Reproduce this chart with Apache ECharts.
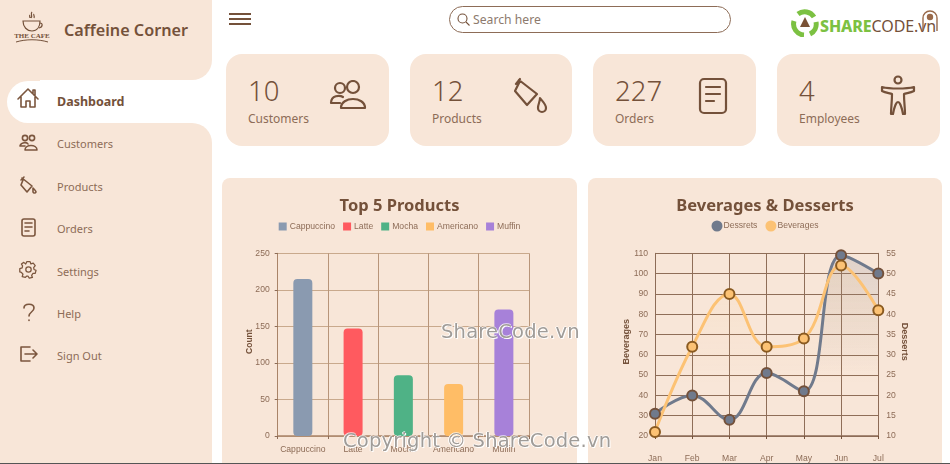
<!DOCTYPE html>
<html>
<head>
<meta charset="utf-8">
<title>Caffeine Corner</title>
<script src="https://cdn.jsdelivr.net/npm/echarts@6/dist/echarts.min.js"></script>
<style>
  * { box-sizing: border-box; }
  html, body { margin: 0; width: 950px; height: 464px; overflow: hidden; background: #fff; }
  body { position: relative; font-family: "Noto Sans", "Open Sans", sans-serif; color: #74513a; }
  .abs { position: absolute; }
  .beige { background: #f8e6d8; }
  .menu { position: absolute; left: 57px; font-size: 11px; color: #8d6c57; line-height: 16px; }
  .menu-icon { position: absolute; fill: none; stroke: #7b563e; stroke-width: 1.6; stroke-linecap: round; stroke-linejoin: round; }
  .stat { position: absolute; top: 54px; width: 163px; height: 92px; border-radius: 16px; background: #f8e6d8; }
  .stat .num { position: absolute; left: 22px; top: 17px; font-size: 27.5px; line-height: 40px; color: #74513a; font-weight: 300; }
  .stat .lbl { position: absolute; left: 22px; top: 57px; font-size: 12px; line-height: 16px; color: #8d6c57; }
  .stat svg { position: absolute; fill: none; stroke: #74513a; stroke-width: 2.2; stroke-linecap: round; stroke-linejoin: round; }
  .chart-card { position: absolute; top: 178px; height: 286px; background: #f8e6d8; border-radius: 8px 8px 0 0; }
  .mark { position: absolute; font-family: "DejaVu Sans", sans-serif; font-size: 19.5px; color: #a09c98; white-space: nowrap; letter-spacing: .2px;
          text-shadow: 1px 1px 0 #fff, -1px 0 0 #fff, 0 -1px 0 rgba(255,255,255,.6); }
</style>
</head>
<body>
  <!-- sidebar -->
  <div class="abs beige" style="left:0;top:0;width:40px;height:464px"></div>
  <div class="abs beige" style="left:0;top:0;width:212px;height:80px;border-bottom-right-radius:20px"></div>
  <div class="abs beige" style="left:0;top:123px;width:212px;height:341px;border-top-right-radius:20px"></div>
  <div class="abs" style="left:7px;top:81px;width:205px;height:42px;background:#fff;border-radius:21px 0 0 21px"></div>

  <svg class="abs" style="left:14px;top:9px" width="36" height="36" viewBox="0 0 36 36" fill="none" stroke="#74513a" stroke-width="1.2">
    <path d="M18 3c-2 2 1 3-1 6M20 5c-1 1 1 2 0 4M16 6c-1 1 0 2 0 3"/>
    <path d="M9 12h17c0 6-3 10-8 10s-9-4-9-10z"/><path d="M26 14c3 0 3 4-1 5"/>
  </svg>
  <div class="abs" style="left:12px;top:32px;width:40px;text-align:center;white-space:nowrap;font:bold 7px/8px 'Liberation Serif',serif;color:#74513a">THE CAFE</div>
  <svg class="abs" style="left:15px;top:39px" width="34" height="6" viewBox="0 0 34 6" fill="none" stroke="#74513a" stroke-width="1">
    <path d="M1 3c10-3 22-3 32 0"/>
  </svg>
  <div class="abs" style="left:64px;top:19px;font-size:16.2px;line-height:22px;font-weight:600;color:#74513a">Caffeine Corner</div>

  <svg class="menu-icon" style="left:16px;top:86px" width="24" height="24" viewBox="0 0 24 24">
    <path d="M2 13 12 3l10 10M5 11v10h5v-6h4v6h5V11M17 8V4h2v6"/>
  </svg>
  <div class="menu" style="top:94px;font-size:12.5px;font-weight:700;color:#74513a">Dashboard</div>

  <svg class="menu-icon" style="left:19px;top:134px" width="19" height="17" viewBox="0 0 19 17">
    <circle cx="6" cy="4" r="2.6"/><circle cx="13" cy="4" r="2.6"/><path d="M1 12c1-4 7-4 8-2M6 16c0-6 12-6 12 0zM1 12h5"/>
  </svg>
  <div class="menu" style="top:136px">Customers</div>

  <svg class="menu-icon" style="left:19px;top:175px" width="19" height="20" viewBox="0 0 19 20">
    <path d="M5 2 2 5M3 3l10 8-5 6-6-7 2-5M14 13c1 1 3 3 3 4a1.6 1.6 0 0 1-3 0c0-1 0-3 0-4z"/>
  </svg>
  <div class="menu" style="top:179px">Products</div>

  <svg class="menu-icon" style="left:21px;top:218px" width="15" height="19" viewBox="0 0 15 19">
    <rect x="1" y="1" width="13" height="17" rx="2"/><path d="M4 5h7M4 9h7M4 13h4"/>
  </svg>
  <div class="menu" style="top:221px">Orders</div>

  <svg class="menu-icon" style="left:19px;top:260px" width="19" height="19" viewBox="0 0 24 24">
    <circle cx="12" cy="12" r="3.4"/>
    <path d="M10 2h4l1 3 3-1 2.5 3-2 2.500 .5 2.500 2.500 1-1 4-3 0-1.500 2.500 1 2.500-4 1-1.500-2.500h-2L8 22l-4-1 1-3L3 15.500 1 15l0-4 3-1 .5-2.500L3 5l3-2 2.500 2z"/>
  </svg>
  <div class="menu" style="top:264px">Settings</div>

  <svg class="menu-icon" style="left:22px;top:303px" width="14" height="19" viewBox="0 0 14 19">
    <path d="M2 5c0-5 10-5 10 0 0 4-5 4-5 8"/><path d="M7 17v.5"/>
  </svg>
  <div class="menu" style="top:306px">Help</div>

  <svg class="menu-icon" style="left:20px;top:346px" width="18" height="16" viewBox="0 0 18 16">
    <path d="M10 1H1v14h9M5 8h12M13 4l4 4-4 4"/>
  </svg>
  <div class="menu" style="top:348px">Sign Out</div>

  <!-- top bar -->
  <div class="abs" style="left:229px;top:13px;width:22px;height:2px;background:#74513a"></div>
  <div class="abs" style="left:229px;top:18px;width:22px;height:2px;background:#74513a"></div>
  <div class="abs" style="left:229px;top:23px;width:22px;height:2px;background:#74513a"></div>

  <div class="abs" style="left:449px;top:6px;width:282px;height:27px;border:1px solid #8d6c57;border-radius:14px"></div>
  <svg class="abs" style="left:457px;top:13px" width="13" height="13" viewBox="0 0 13 13" fill="none" stroke="#74513a" stroke-width="1.1">
    <circle cx="5.500" cy="5.500" r="4.500"/><path d="M9 9l3.500 3.500"/>
  </svg>
  <div class="abs" style="left:473px;top:11px;font-size:12.2px;line-height:17px;color:#8d7a6d">Search here</div>

  <svg class="abs" style="left:791px;top:9px" width="28" height="28" viewBox="0 0 28 28" fill="none">
    <path d="M7 5a11 11 0 0 1 16 3M25 13a11 11 0 0 1-6 12M13 26A11 11 0 0 1 3 12" stroke="#7cc142" stroke-width="5"/>
    <path d="M14 8l5 10H9z" fill="#7a5236"/>
  </svg>
  <div class="abs" style="left:820px;top:15px;font-size:16px;line-height:22px;white-space:nowrap;letter-spacing:-.1px;color:#74513a"><span style="font-weight:800;color:#7cc142">SHARE</span>CODE.vn</div>
  <svg class="abs" style="left:920px;top:8px" width="20" height="24" viewBox="0 0 20 24" fill="none" stroke="#9a6a4a" stroke-width="1.4">
    <path d="M3 23V10a7 7 0 0 1 14 0v13"/><circle cx="10" cy="9" r="2.500" fill="#9a6a4a"/>
  </svg>

  <!-- stat cards -->
  <div class="stat" style="left:226px">
    <div class="num">10</div><div class="lbl">Customers</div>
    <svg style="left:103px;top:26px" width="38" height="30" viewBox="0 0 38 30"><circle cx="11" cy="8" r="5"/><circle cx="24" cy="7" r="6"/><path d="M2 23c0-8 9-8 12-6M3 23h8M12 28c0-12 24-12 24 0z"/></svg>
  </div>
  <div class="stat" style="left:410px;width:162px">
    <div class="num">12</div><div class="lbl">Products</div>
    <svg style="left:104px;top:22px" width="36" height="40" viewBox="0 0 36 40"><path d="M6 3 2 8M5 4l18 14-10 11-12-14 5-10M26 22c2 3 6 6 6 10a4 4 0 0 1-8 0c0-4 2-6 2-10z"/></svg>
  </div>
  <div class="stat" style="left:593px">
    <div class="num">227</div><div class="lbl">Orders</div>
    <svg style="left:105px;top:23px" width="30" height="38" viewBox="0 0 30 38"><rect x="2" y="2" width="26" height="34" rx="4"/><path d="M8 10h14M8 17h14M8 24h8"/></svg>
  </div>
  <div class="stat" style="left:777px">
    <div class="num">4</div><div class="lbl">Employees</div>
    <svg style="left:103px;top:20px" width="36" height="42" viewBox="0 0 36 42"><circle cx="18" cy="6" r="3.500"/><path d="M2 13c8 2 24 2 32 0l0 4c-4 2-8 2-10 3 0 8 1 14 1 20h-2c-1-6-3-12-5-12s-4 6-5 12h-2c0-6 1-12 1-20-2-1-6-1-10-3z"/></svg>
  </div>

  <!-- charts -->
  <div id="productsChart" class="chart-card" style="left:222px;width:355px"></div>
  <div id="salesChart" class="chart-card" style="left:588px;width:354px"></div>

  <div class="mark" style="left:441px;top:320px">ShareCode.vn</div>
  <div class="mark" style="left:343px;top:429px">Copyright © ShareCode.vn</div>
  <div class="abs" style="left:0;top:463px;width:950px;height:1px;background:#555"></div>

<script>
  const productNames = ['Cappuccino', 'Latte', 'Mocha', 'Americano', 'Muffin'];
  const productCounts = [215, 147, 83, 71, 173];
  const productColors = ['#8a9ab0', '#ff5a5f', '#4fb286', '#ffbd66', '#a781d9'];

  const months = ['Jan', 'Feb', 'Mar', 'Apr', 'May', 'Jun', 'Jul'];
  const beverages = [22, 64, 90, 64, 68, 104, 82];
  const desserts = [15.5, 20, 14, 25.5, 21, 54.5, 50];

  const titleColor = '#74513a';
  const labelColor = '#8d6c57';
  const chartFont = '"Liberation Sans", Arial, sans-serif';

  function makeTitle(text) {
    return {
      text: text,
      left: 'center',
      top: 15,
      textStyle: { color: titleColor, fontFamily: '"Noto Sans", sans-serif', fontSize: 16.5, fontWeight: 700 }
    };
  }

  const productsChart = echarts.init(document.getElementById('productsChart'), null, { renderer: 'canvas' });
  productsChart.setOption({
    animation: false,
    backgroundColor: 'transparent',
    title: makeTitle('Top 5 Products'),
    legend: {
      top: 39,
      left: 'center',
      itemWidth: 8,
      itemHeight: 8,
      itemGap: 8,
      icon: 'rect',
      textStyle: { color: labelColor, fontFamily: chartFont, fontSize: 8.6, padding: [0, 0, 0, -2] }
    },
    grid: { left: 55.7, top: 75.3, width: 251.3, height: 182.7 },
    xAxis: {
      type: 'category',
      data: productNames,
      boundaryGap: true,
      axisLine: { lineStyle: { color: '#a98468', width: 1.5 } },
      axisTick: { show: true, length: 3, lineStyle: { color: '#8d6c57' } },
      axisLabel: { color: labelColor, fontFamily: chartFont, fontSize: 8.6, margin: 9, interval: 0 },
      splitLine: { show: true, lineStyle: { color: '#b8957a', width: 1 } }
    },
    yAxis: {
      type: 'value',
      min: 0,
      max: 250,
      interval: 50,
      name: 'Count',
      nameLocation: 'middle',
      nameGap: 24,
      nameMoveOverlap: false,
      nameTextStyle: { color: titleColor, fontFamily: chartFont, fontSize: 8.5, fontWeight: 'bold', padding: [0, 0, 0, 6] },
      axisLine: { show: true, lineStyle: { color: '#a98468', width: 1 } },
      axisTick: { show: true, length: 3, lineStyle: { color: '#8d6c57' } },
      axisLabel: { color: labelColor, fontFamily: chartFont, fontSize: 8.6, margin: 8 },
      splitLine: { show: true, lineStyle: { color: '#c9a98c', width: 1 } }
    },
    series: productNames.map(function (name, i) {
      return {
        name: name,
        type: 'bar',
        barWidth: 19,
        barGap: '-100%',
        itemStyle: { color: productColors[i], borderRadius: 4 },
        data: productCounts.map(function (v, j) { return j === i ? v : null; })
      };
    })
  });

  const salesChart = echarts.init(document.getElementById('salesChart'), null, { renderer: 'canvas' });
  salesChart.setOption({
    animation: false,
    backgroundColor: 'transparent',
    title: makeTitle('Beverages & Desserts'),
    legend: {
      top: 37.5,
      left: 'center',
      itemWidth: 11,
      itemHeight: 11,
      itemGap: 8,
      icon: 'circle',
      itemStyle: { borderWidth: 0 },
      textStyle: { color: labelColor, fontFamily: chartFont, fontSize: 8.6, padding: [0, 0, 0, -4] }
    },
    grid: { left: 67, top: 75.3, width: 223.3, height: 182.7 },
    xAxis: {
      type: 'category',
      data: months,
      boundaryGap: false,
      axisLine: { lineStyle: { color: '#8d6c57', width: 1.5 } },
      axisTick: { show: true, length: 3, lineStyle: { color: '#74513a' } },
      axisLabel: { color: labelColor, fontFamily: chartFont, fontSize: 8.6, margin: 18, interval: 0 },
      splitLine: { show: true, lineStyle: { color: '#8f6e58', width: 1 } }
    },
    yAxis: [
      {
        type: 'value',
        min: 20,
        max: 110,
        interval: 10,
        name: 'Beverages',
        nameLocation: 'middle',
        nameGap: 24,
        nameMoveOverlap: false,
        nameTextStyle: { color: titleColor, fontFamily: chartFont, fontSize: 9, fontWeight: 'bold', padding: [0, 0, 0, 6] },
        axisLine: { show: true, lineStyle: { color: '#8d6c57' } },
        axisTick: { show: false },
        axisLabel: { color: labelColor, fontFamily: chartFont, fontSize: 8.6, margin: 7 },
        splitLine: { show: true, lineStyle: { color: '#8f6e58', width: 1 } }
      },
      {
        type: 'value',
        position: 'right',
        min: 10,
        max: 55,
        interval: 5,
        name: 'Desserts',
        nameLocation: 'middle',
        nameGap: 22,
        nameRotate: -90,
        nameMoveOverlap: false,
        nameTextStyle: { color: titleColor, fontFamily: chartFont, fontSize: 9, fontWeight: 'bold', padding: [0, 6, 0, 0] },
        axisLine: { show: true, lineStyle: { color: '#8d6c57' } },
        axisTick: { show: false },
        axisLabel: { color: labelColor, fontFamily: chartFont, fontSize: 8.6, margin: 8 },
        splitLine: { show: false }
      }
    ],
    series: [
      {
        name: 'Dessrets',
        type: 'line',
        yAxisIndex: 1,
        data: desserts,
        smooth: 0.4,
        symbol: 'circle',
        symbolSize: 10,
        lineStyle: { color: '#707a8c', width: 3 },
        itemStyle: { color: '#707a8c', borderColor: '#74513a', borderWidth: 2 },
        areaStyle: {
          color: new echarts.graphic.LinearGradient(0, 0, 0, 1, [
            { offset: 0, color: 'rgba(111,116,134,0.25)' },
            { offset: 0.65, color: 'rgba(111,116,134,0)' }
          ])
        }
      },
      {
        name: 'Beverages',
        type: 'line',
        data: beverages,
        smooth: 0.4,
        symbol: 'circle',
        symbolSize: 10,
        lineStyle: { color: '#fcc274', width: 3 },
        itemStyle: { color: '#fcc274', borderColor: '#8a5a20', borderWidth: 2 },
        areaStyle: {
          color: new echarts.graphic.LinearGradient(0, 0, 0, 1, [
            { offset: 0, color: 'rgba(255,189,102,0.12)' },
            { offset: 0.7, color: 'rgba(255,189,102,0)' }
          ])
        }
      }
    ]
  });
</script>
</body>
</html>
